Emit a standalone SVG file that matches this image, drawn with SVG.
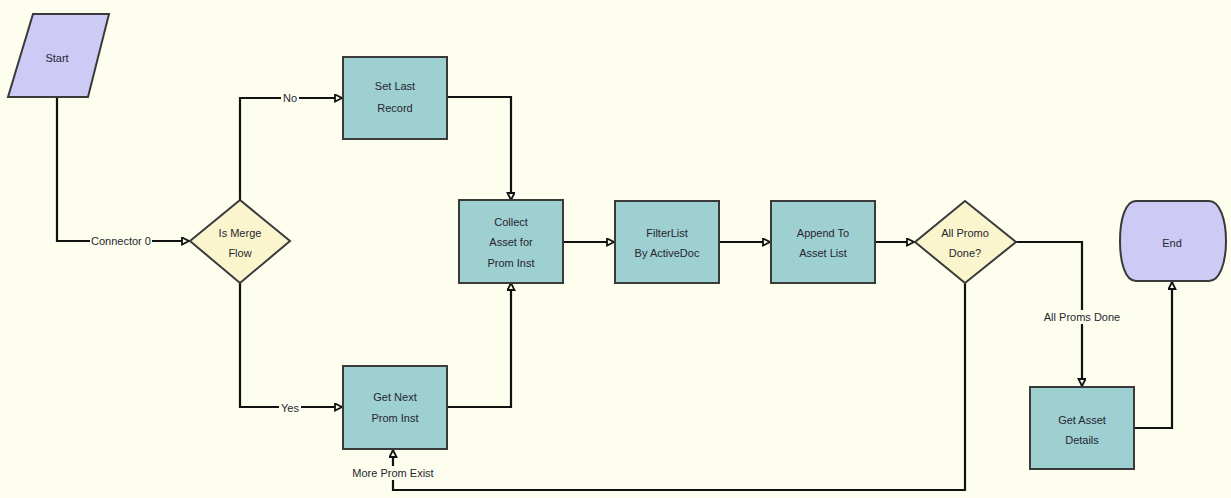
<svg xmlns="http://www.w3.org/2000/svg" width="1231" height="498" viewBox="0 0 1231 498">
<style>
.bg{fill:#fefeee}
.proc{fill:#9ecfd1;stroke:#3a3a3a;stroke-width:2}
.dec{fill:#faf5cc;stroke:#3a3a3a;stroke-width:2}
.term{fill:#cdcaf5;stroke:#3a3a3a;stroke-width:2}
.t{font-family:"Liberation Sans",Arial,sans-serif;font-size:11px;fill:#262630;text-anchor:middle}
.c{fill:none;stroke:#111;stroke-width:2.2}
.lb{fill:#fefeee}
</style>
<defs>
<marker id="arr" markerUnits="userSpaceOnUse" markerWidth="10" markerHeight="10" refX="8" refY="4" orient="auto">
<path d="M1,0.5 L8,4 L1,7.5 Z" fill="#fefeee" stroke="#111" stroke-width="1.8"/>
</marker>
</defs>
<rect class="bg" x="0" y="0" width="1231" height="498"/>
<g id="connectors">
<path class="c" d="M57,97 V241 H189" marker-end="url(#arr)"/>
<path class="c" d="M240,200 V98 H342" marker-end="url(#arr)"/>
<path class="c" d="M240,283 V407 H342" marker-end="url(#arr)"/>
<path class="c" d="M447,97 H511 V200" marker-end="url(#arr)"/>
<path class="c" d="M447,407 H511 V283" marker-end="url(#arr)"/>
<path class="c" d="M563,242 H614" marker-end="url(#arr)"/>
<path class="c" d="M719,242 H770" marker-end="url(#arr)"/>
<path class="c" d="M875,242 H914" marker-end="url(#arr)"/>
<path class="c" d="M1016,242 H1082 V386" marker-end="url(#arr)"/>
<path class="c" d="M1134,428 H1172 V282" marker-end="url(#arr)"/>
<path class="c" d="M965,283 V490 H393 V450" marker-end="url(#arr)"/>
<rect class="lb" x="90" y="234" width="62" height="14"/>
<text class="t" x="121" y="245">Connector 0</text>
<rect class="lb" x="281" y="91" width="18" height="14"/>
<text class="t" x="290" y="102">No</text>
<rect class="lb" x="279" y="400" width="22" height="14"/>
<text class="t" x="290" y="412">Yes</text>
<rect class="lb" x="1042" y="310" width="80" height="14"/>
<text class="t" x="1082" y="321">All Proms Done</text>
<rect class="lb" x="352" y="466" width="82" height="14"/>
<text class="t" x="393" y="477">More Prom Exist</text>
</g>
<g id="start">
<polygon class="term" points="33,14 109,14 88,97 8,97"/>
<text class="t" x="57" y="62">Start</text>
</g>
<g id="is-merge-flow">
<polygon class="dec" points="240,200 290,241 240,283 190,241"/>
<text class="t" x="240" y="237">Is Merge</text>
<text class="t" x="240" y="257">Flow</text>
</g>
<g id="set-last-record">
<rect class="proc" x="343" y="57" width="104" height="82"/>
<text class="t" x="395" y="90">Set Last</text>
<text class="t" x="395" y="112">Record</text>
</g>
<g id="get-next-prom-inst">
<rect class="proc" x="343" y="366" width="104" height="83"/>
<text class="t" x="395" y="401">Get Next</text>
<text class="t" x="395" y="422">Prom Inst</text>
</g>
<g id="collect-asset">
<rect class="proc" x="459" y="200" width="104" height="83"/>
<text class="t" x="511" y="226">Collect</text>
<text class="t" x="511" y="246">Asset for</text>
<text class="t" x="511" y="267">Prom Inst</text>
</g>
<g id="filterlist">
<rect class="proc" x="615" y="201" width="104" height="82"/>
<text class="t" x="667" y="237">FilterList</text>
<text class="t" x="667" y="257">By ActiveDoc</text>
</g>
<g id="append-to-asset-list">
<rect class="proc" x="771" y="201" width="104" height="82"/>
<text class="t" x="823" y="237">Append To</text>
<text class="t" x="823" y="257">Asset List</text>
</g>
<g id="all-promo-done">
<polygon class="dec" points="965,201 1016,242 965,283 915,242"/>
<text class="t" x="965" y="237">All Promo</text>
<text class="t" x="965" y="257">Done?</text>
</g>
<g id="get-asset-details">
<rect class="proc" x="1030" y="387" width="104" height="82"/>
<text class="t" x="1082" y="424">Get Asset</text>
<text class="t" x="1082" y="444">Details</text>
</g>
<g id="end">
<path class="term" d="M1136,201 H1209 C1220,201 1226,220 1226,241 C1226,262 1220,281 1209,281 H1136 C1125,281 1120,262 1120,241 C1120,220 1125,201 1136,201 Z"/>
<text class="t" x="1172" y="247">End</text>
</g>
</svg>
